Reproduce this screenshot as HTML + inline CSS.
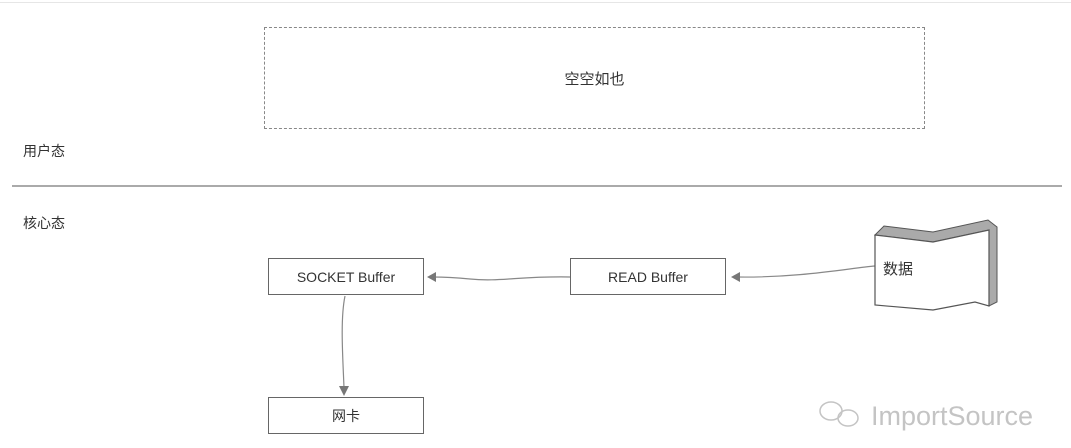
<!DOCTYPE html>
<html><head><meta charset="utf-8"><style>
body{margin:0;width:1071px;height:448px;background:#fff;overflow:hidden;position:relative;font-family:"Liberation Sans","Noto Sans CJK SC",sans-serif;color:#333}
.t{position:absolute;font-size:14px}
.b{position:absolute;border:1.5px solid #666;background:#fff;box-sizing:border-box;display:flex;align-items:center;justify-content:center;font-size:14px;color:#333}
</style></head><body>
<div style="position:absolute;left:0;top:2px;width:1071px;height:1px;background:#e6e6e6"></div>
<div style="position:absolute;left:264px;top:27px;width:661px;height:102px;border:1.5px dashed #888;box-sizing:border-box;display:flex;align-items:center;justify-content:center;font-size:15px">空空如也</div>
<div class="t" style="left:23px;top:141px">用户态</div>
<div style="position:absolute;left:12px;top:185px;width:1050px;height:1.5px;background:#aaa"></div>
<div class="t" style="left:23px;top:213px">核心态</div>
<div class="b" style="left:268px;top:258px;width:156px;height:37px">SOCKET Buffer</div>
<div class="b" style="left:570px;top:258px;width:156px;height:37px">READ Buffer</div>
<div class="b" style="left:268px;top:397px;width:156px;height:37px">网卡</div>
<svg width="1071" height="448" style="position:absolute;left:0;top:0">
<g fill="none" stroke="#888" stroke-width="1.2">
<path d="M570 277 C 520 276, 500 282, 470 279 C 450 277, 440 277, 432 277"/>
<path d="M875 266 C 850 268, 800 278, 736 277"/>
<path d="M345 296 C 340 320, 343 360, 344 388"/>
</g>
<g fill="#777">
<polygon points="427,277 436,272 436,282"/>
<polygon points="731,277 740,272 740,282"/>
<polygon points="344,396 339,386 349,386"/>
</g>
<polygon points="875,235 884,226 933,232 988,220 997,227 997,302 989,306 989,230 933,242" fill="#aaa" stroke="#555" stroke-width="1"/>
<polygon points="875,235 933,242 989,230 989,306 975,302 933,310 875,305" fill="#fff" stroke="#555" stroke-width="1.2"/>
<text x="883" y="274" font-size="15" fill="#333" font-family="Liberation Sans, Noto Sans CJK SC, sans-serif">数据</text>
<text x="871" y="425" font-size="27" fill="#c4c4c4" font-family="Liberation Sans, sans-serif">ImportSource</text>
<g fill="none" stroke="#c4c4c4" stroke-width="1.5"><ellipse cx="831" cy="411" rx="11" ry="9"/><ellipse cx="848" cy="418" rx="10" ry="8"/></g>
</svg>
</body></html>
